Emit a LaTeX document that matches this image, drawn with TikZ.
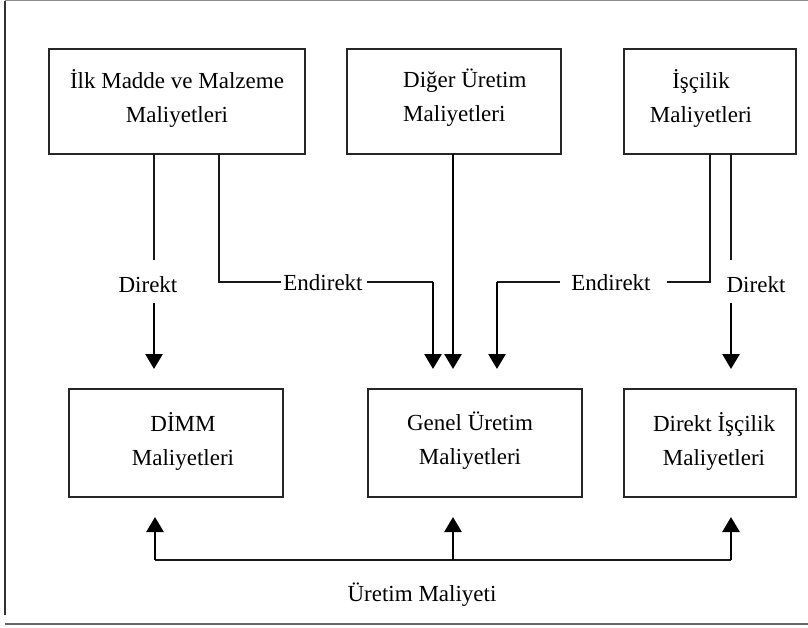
\documentclass[tikz,border=0pt]{standalone}
\usepackage{fontspec}
\setmainfont{Liberation Serif}
\usetikzlibrary{arrows.meta}
\begin{document}
\begin{tikzpicture}[x=1pt,y=-1pt,
  box/.style={draw=black!85,line width=1.6pt,outer sep=0pt,inner sep=0pt},
  txt/.style={font=\fontsize{23}{34}\selectfont,inner sep=0pt,align=center},
  thinline/.style={draw=black!90,line width=1.2pt},
  arr/.style={draw=black,line width=2.8pt,-{Triangle[width=17pt,length=15pt]}},
  frameline/.style={draw=black!60,line width=1.4pt}]
\useasboundingbox (0,0) rectangle (808,628);
% frame
\coordinate (fTL) at (5,0.7);
\coordinate (fTR) at (808,0.7);
\coordinate (fBL) at (5,615);
\coordinate (gBL) at (5,624);
\coordinate (gBR) at (808,624);
\draw[frameline,draw=black!45] (fTL) -- (fTR);
\draw[frameline,draw=black!80] (fTL) -- (fBL);
\draw[frameline,line width=2pt] (gBL) -- (gBR);
% boxes
\node[box,minimum width=256pt,minimum height=105pt] (b1) at (177,101.5) {};
\node[box,minimum width=214pt,minimum height=105pt] (b2) at (454,101.5) {};
\node[box,minimum width=172pt,minimum height=105pt] (b3) at (710,101.5) {};
\node[box,minimum width=214pt,minimum height=108pt] (b4) at (176,443) {};
\node[box,minimum width=214pt,minimum height=108pt] (b5) at (475,443) {};
\node[box,minimum width=172pt,minimum height=108pt] (b6) at (710,443) {};
% box texts
\node[txt] (t1) at (177,98) {İlk Madde ve Malzeme\\Maliyetleri};
\node[txt,align=left,anchor=west] (t2) at (403,98) {Diğer Üretim\\Maliyetleri};
\node[txt] (t3) at (701,98) {İşçilik\\Maliyetleri};
\node[txt] (t4) at (183,441) {DİMM\\Maliyetleri};
\node[txt] (t5) at (470,441) {Genel Üretim\\Maliyetleri};
\node[txt] (t6) at (714,441) {Direkt İşçilik\\Maliyetleri};
% labels
\node[txt] (l1) at (148,285) {Direkt};
\node[txt] (l2) at (323,283) {Endirekt};
\node[txt] (l3) at (611,283) {Endirekt};
\node[txt] (l4) at (756,285) {Direkt};
\node[txt] (l5) at (422,595) {Üretim Maliyeti};
% coordinates
\coordinate (d1a) at (154,260);
\coordinate (d1b) at (154,303);
\coordinate (d1c) at (154,369);
\coordinate (e1a) at (219,282);
\coordinate (e1b) at (281,282);
\coordinate (e1c) at (367,282);
\coordinate (e1d) at (433,282);
\coordinate (e1e) at (433,369);
\coordinate (m1) at (453,369);
\coordinate (e2a) at (710,282);
\coordinate (e2b) at (667,282);
\coordinate (e2c) at (560,282);
\coordinate (e2d) at (497,282);
\coordinate (e2e) at (497,369);
\coordinate (d2a) at (731,260);
\coordinate (d2b) at (731,303);
\coordinate (d2c) at (731,369);
\coordinate (u1) at (155,560);
\coordinate (u2) at (453,560);
\coordinate (u3) at (731,560);
\coordinate (u1t) at (155,517);
\coordinate (u2t) at (453,517);
\coordinate (u3t) at (731,517);
% connectors
\draw[thinline] (b1.south -| d1a) -- (d1a);
\draw[arr] (d1b) -- (d1c);
\draw[thinline] (b1.south -| e1a) -- (e1a) -- (e1b);
\draw[thinline] (e1c) -- (e1d);
\draw[arr] (e1d) -- (e1e);
\draw[arr] (b2.south -| m1) -- (m1);
\draw[thinline] (b3.south -| e2a) -- (e2a) -- (e2b);
\draw[thinline] (e2c) -- (e2d);
\draw[arr] (e2d) -- (e2e);
\draw[thinline] (b3.south -| d2a) -- (d2a);
\draw[arr] (d2b) -- (d2c);
\draw[thinline,line width=1.5pt] (u1) -- (u3);
\draw[arr] (u1) -- (u1t);
\draw[arr] (u2) -- (u2t);
\draw[arr] (u3) -- (u3t);
\end{tikzpicture}
\end{document}
